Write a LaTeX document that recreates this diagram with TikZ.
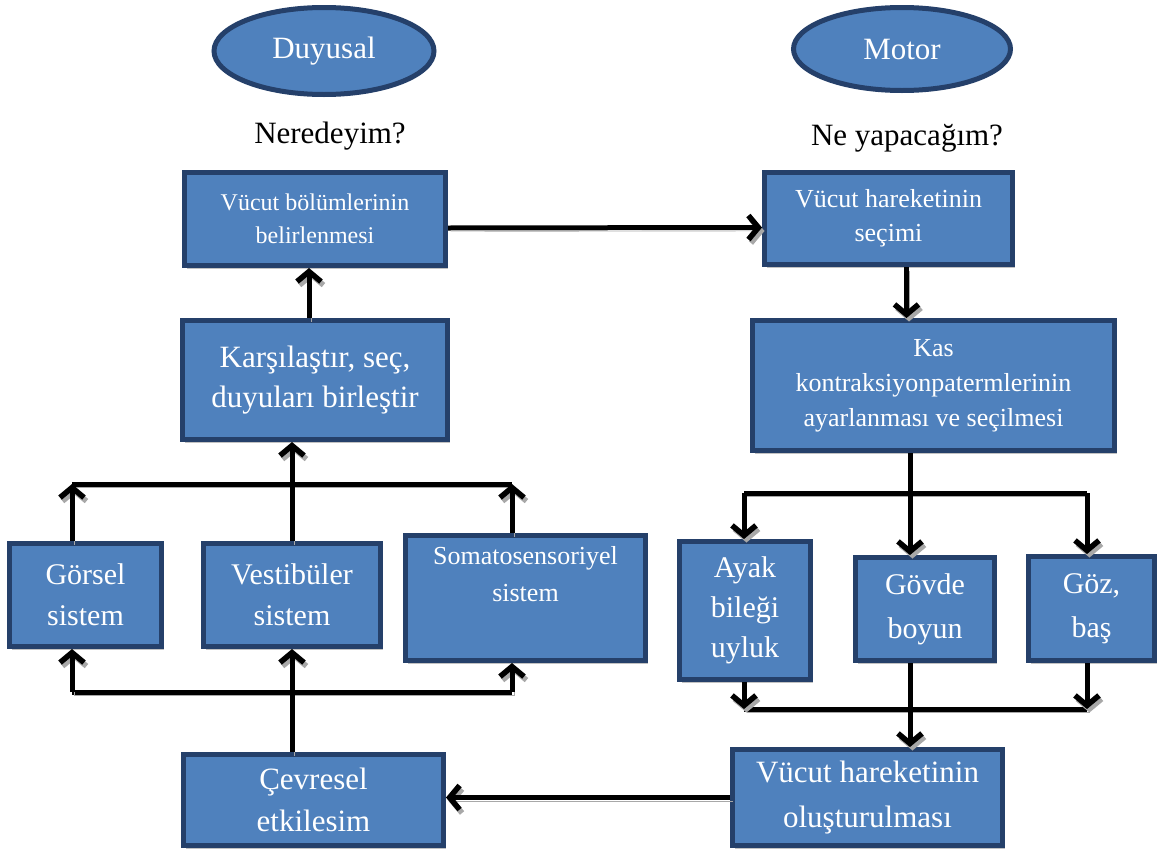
\documentclass[tikz,border=0pt]{standalone}
\usepackage{fontspec}
\setmainfont{Liberation Serif}
\usetikzlibrary{
    arrows.meta,
    calc,
    positioning,
    shadows,
    shapes.geometric
}
\definecolor{boxfill}{HTML}{4F81BD}
\definecolor{boxedge}{HTML}{25406A}
\definecolor{shade}  {HTML}{A8A8A8}
\newcommand{\fsz}[2]{\fontsize{#1}{#2}\selectfont}

\begin{document}
\begin{tikzpicture}[
    x=1pt, y=-1pt,
    >={Straight Barb[length=10pt, width=24pt, line width=5.5pt]},
    %% --- semantic styles ---
    blockbox/.style   = {rectangle, draw=boxedge, fill=boxfill, line width=5pt,
                         text=white, align=center, inner sep=2pt,
                         drop shadow={shadow xshift=2.5pt, shadow yshift=-3.5pt,
                                      fill=shade, opacity=0.7}},
    headellipse/.style = {ellipse, draw=boxedge, fill=boxfill, line width=5pt,
                         text=white, inner sep=0pt, font=\fsz{31}{38}},
    question/.style   = {font=\fsz{31}{38}},
    flow/.style       = {->, draw=black, line width=5pt,
                         preaction={draw=shade, transform canvas={xshift=2.5pt, yshift=-3.5pt}}},
    busline/.style    = {draw=black, line width=5pt,
                         preaction={draw=shade, transform canvas={xshift=2.5pt, yshift=-3.5pt}}}
]
\useasboundingbox (0,0) rectangle (1160,857);

%% =====================================================
%% Headings
%% =====================================================
\node[headellipse, minimum width=220, minimum height=87] (DUY) at (324, 51) {Duyusal};
\node[headellipse, minimum width=217, minimum height=83] (MOT) at (902, 49) {Motor};
\node[question] (Q1) at (330, 136) {Neredeyim?};
\node[question] (Q2) at (907, 138) {Ne yapacağım?};

%% =====================================================
%% Sensory side
%% =====================================================
\node[blockbox, minimum width=261, minimum height=93, font=\fsz{24}{33}] (VBL) at (315, 219)
    {Vücut bölümlerinin\\belirlenmesi};
\node[blockbox, minimum width=265, minimum height=119, font=\fsz{31}{40}] (KSB) at (315, 380)
    {Karşılaştır, seç,\\duyuları birleştir};
\node[blockbox, minimum width=152, minimum height=103, font=\fsz{30}{41}] (GOR) at (85.5, 595)
    {Görsel\\sistem};
\node[blockbox, minimum width=177, minimum height=103, font=\fsz{30}{41}] (VES) at (292, 595)
    {Vestibüler\\sistem};
\node[blockbox, minimum width=240, minimum height=125, font=\fsz{26}{37}] (SOM) at (525.5, 598)
    {Somatosensoriyel\\sistem\\\strut};
\node[blockbox, minimum width=260, minimum height=91, font=\fsz{31}{42}] (CEV) at (313.5, 800)
    {Çevresel\\etkilesim};

%% =====================================================
%% Motor side
%% =====================================================
\node[blockbox, minimum width=248, minimum height=92, font=\fsz{26}{34}] (VHS) at (888.5, 218.5)
    {Vücut hareketinin\\seçimi};
\node[blockbox, minimum width=362, minimum height=130, font=\fsz{26}{35}] (KAS) at (933.5, 385.5)
    {Kas\\kontraksiyonpatermlerinin\\ayarlanması ve seçilmesi};
\node[blockbox, minimum width=131, minimum height=138, font=\fsz{30}{40}] (AYK) at (745, 610.5)
    {Ayak\\bileği\\uyluk};
\node[blockbox, minimum width=139, minimum height=103, font=\fsz{30}{44}] (GOV) at (925, 609)
    {Gövde\\boyun};
\node[blockbox, minimum width=126, minimum height=104, font=\fsz{30}{44}] (GOZ) at (1091.5, 608.5)
    {Göz,\\baş};
\node[blockbox, minimum width=270, minimum height=96, font=\fsz{31}{45}] (VHO) at (867.5, 797.5)
    {Vücut hareketinin\\oluşturulması};

%% =====================================================
%% Bus points
%% =====================================================
\coordinate (TL) at (72, 484);
\coordinate (TR) at (512, 484);
\coordinate (BL) at (72, 692);
\coordinate (BR) at (512, 692);
\coordinate (RL) at (744, 493);
\coordinate (RT) at (910, 493);
\coordinate (RR) at (1087, 493);
\coordinate (SL) at (744, 709);
\coordinate (SR) at (1087, 709);

%% =====================================================
%% Connectors
%% =====================================================
\draw[flow] ([yshift=-9pt]VBL.east) -- ([yshift=-9pt]VHS.west);
\draw[flow] ([xshift=-6pt]KSB.north) -- ([xshift=-6pt]VBL.south);
\draw[flow] ([xshift=18pt]VHS.south) -- ([xshift=18pt]VHS.south |- KAS.north);

% sensory buses
\draw[busline] (TL) -- (TR);
\draw[busline] (BL) -- (BR);
\draw[flow] (VES.north) -- (VES.north |- KSB.south);
\draw[flow] (GOR.north -| TL) -- (TL);
\draw[flow] (SOM.north -| TR) -- (TR);
\draw[flow] (BL) -- (GOR.south -| BL);
\draw[flow] (BR) -- (SOM.south -| BR);
\draw[flow] (VES.south |- CEV.north) -- (VES.south);

% motor buses
\draw[busline] (RL) -- (RR);
\draw[busline] (SL) -- (SR);
\draw[busline] (KAS.south -| RT) -- (RT);
\foreach \P/\N in {RL/AYK, RT/GOV, RR/GOZ}
    \draw[flow] (\P) -- (\N.north -| \P);
\draw[flow] (AYK.south -| SL) -- (SL);
\draw[flow] (GOZ.south -| SR) -- (SR);
\draw[flow] (GOV.south -| RT) -- (VHO.north -| RT);

\draw[flow] (VHO.west) -- (VHO.west -| CEV.east);

\end{tikzpicture}
\end{document}
